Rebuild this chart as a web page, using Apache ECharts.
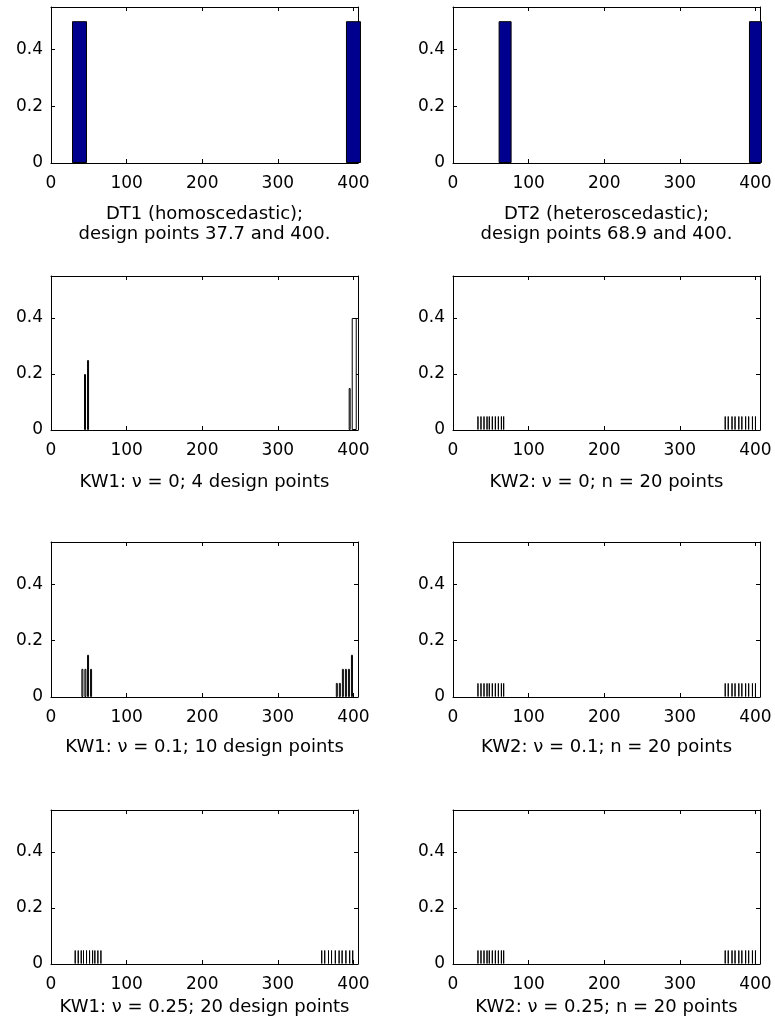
<!DOCTYPE html>
<html>
<head>
<meta charset="utf-8">
<script src="https://cdn.jsdelivr.net/npm/echarts@6/dist/echarts.min.js"></script>
<style>
html, body { margin: 0; padding: 0; background: #fff; }
#chart { width: 775px; height: 1026px; }
</style>
</head>
<body>
<div id="chart"></div>
<script>
// 设计点与权重
var dt1X = [37.7, 400];
var dt1Y = [0.5, 0.5];
var dt2X = [68.9, 400];
var dt2Y = [0.5, 0.5];

var kw1Nu0X = [45, 49, 395];
var kw1Nu0Y = [0.2, 0.25, 0.15];
var kw1Nu0EndX = [401];
var kw1Nu0EndY = [0.4];

var kw1Nu01X = [41.5, 45.5, 49, 53, 378, 382, 386, 390, 394, 398];
var kw1Nu01Y = [0.1, 0.1, 0.15, 0.1, 0.05, 0.05, 0.1, 0.1, 0.1, 0.15];

var kw1Nu025X = [32, 36, 40, 43, 47, 51, 55, 58, 62, 66, 358, 362, 367, 371, 376, 381, 385, 390, 395, 399];
var kw1Nu025Y = [0.05, 0.05, 0.05, 0.05, 0.05, 0.05, 0.05, 0.05, 0.05, 0.05,
                 0.05, 0.05, 0.05, 0.05, 0.05, 0.05, 0.05, 0.05, 0.05, 0.05];

var kw2X = [33, 37, 41, 45, 48, 52, 56, 60, 64, 67, 360, 364, 369, 373, 378, 382, 387, 391, 396, 400];
var kw2Y = [0.05, 0.05, 0.05, 0.05, 0.05, 0.05, 0.05, 0.05, 0.05, 0.05,
            0.05, 0.05, 0.05, 0.05, 0.05, 0.05, 0.05, 0.05, 0.05, 0.05];

var xTickLabels = [0, 100, 200, 300, 400];
var yTickLabels = [0, 0.2, 0.4];

var titles = [
	'DT1 (homoscedastic);\ndesign points 37.7 and 400.',
	'DT2 (heteroscedastic);\ndesign points 68.9 and 400.',
	'KW1: \u03bd = 0; 4 design points',
	'KW2: \u03bd = 0; n = 20 points',
	'KW1: \u03bd = 0.1; 10 design points',
	'KW2: \u03bd = 0.1; n = 20 points',
	'KW1: \u03bd = 0.25; 20 design points',
	'KW2: \u03bd = 0.25; n = 20 points'
];

function pairs(xs, ys) {
	var out = [];
	for (var i = 0; i < xs.length; i++) out.push([xs[i], ys[i]]);
	return out;
}

// 每个子图: 行, 列, 柱子列表
var panels = [
	{ row: 0, col: 0, bars: [{ x: dt1X, y: dt1Y, w: 15, fill: '#00008f' }] },
	{ row: 0, col: 1, bars: [{ x: dt2X, y: dt2Y, w: 13, fill: '#00008f' }] },
	{ row: 1, col: 0, bars: [{ x: kw1Nu0X, y: kw1Nu0Y, w: 2, fill: '#fff' },
	                         { x: kw1Nu0EndX, y: kw1Nu0EndY, w: 5, fill: '#fff', top: true }] },
	{ row: 1, col: 1, bars: [{ x: kw2X, y: kw2Y, w: 1, fill: '#000' }] },
	{ row: 2, col: 0, bars: [{ x: kw1Nu01X, y: kw1Nu01Y, w: 2, fill: '#fff' }] },
	{ row: 2, col: 1, bars: [{ x: kw2X, y: kw2Y, w: 1, fill: '#000' }] },
	{ row: 3, col: 0, bars: [{ x: kw1Nu025X, y: kw1Nu025Y, w: 1, fill: '#000' }] },
	{ row: 3, col: 1, bars: [{ x: kw2X, y: kw2Y, w: 1, fill: '#000' }] }
];

var rowTop = [7, 276, 542, 810];
var rowHeight = [156, 154, 155, 154];
var colLeft = [51, 453];
var nameGaps = [41, 42, 40, 33];
var font = 'DejaVu Sans';

var grid = [], xAxis = [], yAxis = [], series = [];

panels.forEach(function(p, i) {
	grid.push({ left: colLeft[p.col], top: rowTop[p.row], width: 307, height: rowHeight[p.row] });
	var axLine = { show: true, onZero: false, lineStyle: { color: '#000', width: 1 } };
	var tick = { show: true, inside: true, length: 4, lineStyle: { color: '#000' } };
	// 下方x轴
	xAxis.push({
		type: 'value', gridIndex: i, position: 'bottom', min: 0, max: 406, interval: 100,
		axisLine: axLine, axisTick: tick, splitLine: { show: false },
		axisLabel: {
			show: true, margin: 12, color: '#000', fontFamily: font, fontSize: 17,
			showMaxLabel: false,
			formatter: function(v) { return xTickLabels.indexOf(v) >= 0 ? String(v) : ''; }
		},
		name: titles[i], nameLocation: 'middle', nameGap: nameGaps[p.row],
		nameTextStyle: { color: '#000', fontFamily: font, fontSize: 18, lineHeight: 20 }
	});
	// 上方x轴 (镜像刻度)
	xAxis.push({
		type: 'value', gridIndex: i, position: 'top', min: 0, max: 406, interval: 100,
		axisLine: axLine, axisTick: tick, splitLine: { show: false }, axisLabel: { show: false }
	});
	yAxis.push({
		type: 'value', gridIndex: i, position: 'left', min: 0, max: 0.55, interval: 0.2,
		axisLine: axLine, axisTick: tick, splitLine: { show: false },
		axisLabel: {
			show: true, margin: 8, color: '#000', fontFamily: font, fontSize: 17,
			showMaxLabel: false,
			formatter: function(v) {
				for (var k = 0; k < yTickLabels.length; k++) {
					if (Math.abs(v - yTickLabels[k]) < 1e-6) return String(yTickLabels[k]);
				}
				return '';
			}
		}
	});
	yAxis.push({
		type: 'value', gridIndex: i, position: 'right', min: 0, max: 0.55, interval: 0.2,
		axisLine: axLine, axisTick: tick, splitLine: { show: false }, axisLabel: { show: false }
	});
	p.bars.forEach(function(b) {
		series.push({
			type: 'bar',
			xAxisIndex: b.top ? i * 2 + 1 : i * 2,
			yAxisIndex: i * 2,
			barWidth: b.w,
			clip: true,
			silent: true,
			animation: false,
			itemStyle: { color: b.fill, borderColor: '#000', borderWidth: 1 },
			data: pairs(b.x, b.y)
		});
	});
});

var myChart = echarts.init(document.getElementById('chart'));
myChart.setOption({
	backgroundColor: '#fff',
	animation: false,
	grid: grid,
	xAxis: xAxis,
	yAxis: yAxis,
	series: series
});
</script>
</body>
</html>
